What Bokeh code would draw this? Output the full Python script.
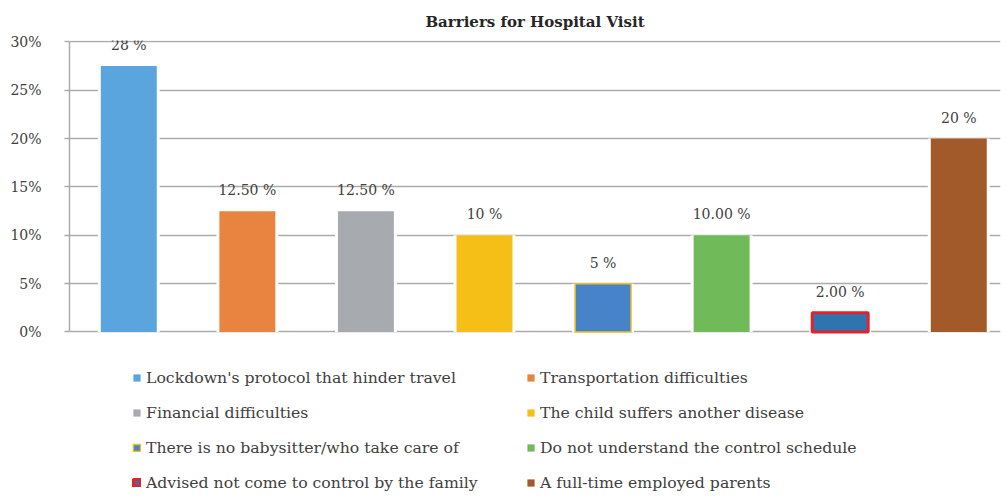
from bokeh.plotting import figure
from bokeh.models import (Range1d, FixedTicker, PrintfTickFormatter, Legend, LegendItem,
                          ColumnDataSource)
from bokeh.core.properties import value
from bokeh.embed import file_html
from bokeh.resources import INLINE

title = "Barriers for Hospital Visit"
categories = [
    "Lockdown's protocol that hinder travel",
    "Transportation difficulties",
    "Financial difficulties",
    "The child suffers another disease",
    "There is no babysitter/who take care of",
    "Do not understand the control schedule",
    "Advised not come to control by the family",
    "A full-time employed parents",
]
values = [27.5, 12.5, 12.5, 10, 5, 10, 2, 20]
value_labels = ["28 %", "12.50 %", "12.50 %", "10 %", "5 %", "10.00 %", "2.00 %", "20 %"]
y_ticks = [0, 5, 10, 15, 20, 25, 30]

fill_colors = ["#5BA5DF", "#E8843F", "#A7AAAF", "#F5BF17", "#4683C9", "#71BA5A", "#2E74AE", "#A35A2A"]
line_colors = [None, None, None, None, "#F0C020", None, "#E3222C", None]
line_widths = [0, 0, 0, 0, 1.5, 0, 3, 0]

FONT = "DejaVu Serif"
TEXT = "#404040"
GRID = "#ABABAB"

xs = list(range(len(categories)))

# frame spans the chart and the legend area below it; the axis is bounded to 0..30
p = figure(width=1002, height=496, output_backend="svg", toolbar_location=None,
           x_range=Range1d(-0.5, 7.352), y_range=Range1d(-17.02, 30.15),
           min_border_left=69, min_border_right=2, min_border_top=40,
           min_border_bottom=0, outline_line_color=None)

p.title.text = title
p.title.align = "center"
p.title.text_font = FONT
p.title.text_font_size = "15px"
p.title.text_font_style = "bold"
p.title.text_color = "#262626"
p.title.standoff = 20

p.xaxis.visible = False
p.xgrid.visible = False
p.yaxis.bounds = (0, 30)
p.yaxis.ticker = FixedTicker(ticks=y_ticks)
p.yaxis.formatter = PrintfTickFormatter(format="%d%%")
p.yaxis.axis_line_color = GRID
p.yaxis.axis_line_width = 1.5
p.yaxis.major_tick_line_color = GRID
p.yaxis.major_tick_line_width = 1.5
p.yaxis.major_tick_out = 5
p.yaxis.major_tick_in = 0
p.yaxis.minor_tick_line_color = None
p.yaxis.major_label_text_font = FONT
p.yaxis.major_label_text_font_size = "14px"
p.yaxis.major_label_text_color = TEXT
p.yaxis.major_label_standoff = 23
p.ygrid.ticker = FixedTicker(ticks=y_ticks)
p.ygrid.grid_line_color = GRID
p.ygrid.grid_line_width = 1.5

bar_w = 0.472
gap_w = bar_w + 0.05

# white gaps around bars (interrupting gridlines)
p.vbar(x=xs, top=values, bottom=0, width=gap_w, fill_color="white", line_color=None)

items = []
for i, cat in enumerate(categories):
    r = p.vbar(x=[xs[i]], top=[values[i]], bottom=0, width=bar_w,
               fill_color=fill_colors[i],
               line_color=line_colors[i], line_width=line_widths[i] if line_widths[i] else 1)
    items.append(LegendItem(label=cat, renderers=[r]))

# legend fills column by column; order items so they read row by row
ncols = 2
nrows = (len(items) + ncols - 1) // ncols
ordered = [items[r * ncols + c] for c in range(ncols) for r in range(nrows)]

src = ColumnDataSource(dict(x=xs, y=values, t=value_labels))
p.text(x="x", y="y", text="t", source=src, text_align="center", text_baseline="middle",
       y_offset=-21, text_font=value(FONT), text_font_size="14px", text_color=TEXT)

legend = Legend(items=ordered, ncols=ncols, location=(63, 4),
                label_text_font=FONT, label_text_font_size="15.7px", label_text_color=TEXT,
                glyph_width=9, glyph_height=9, label_standoff=5, label_height=20,
                label_width=365, spacing=15, padding=0, margin=0,
                border_line_color=None, background_fill_alpha=0)
p.add_layout(legend, "center")

open("out.html", "w").write(file_html(p, INLINE))
